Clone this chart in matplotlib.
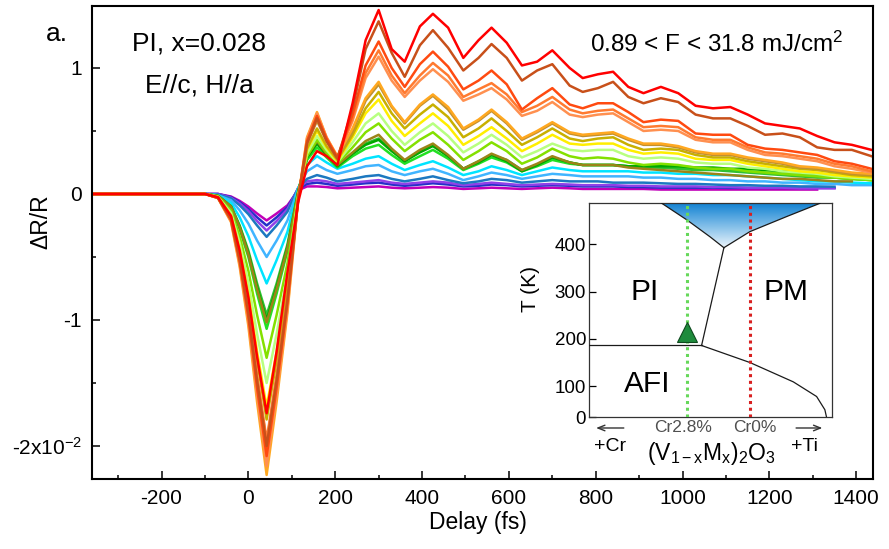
import numpy as np
import matplotlib
matplotlib.use('Agg')
import matplotlib.pyplot as plt
from matplotlib.ticker import MultipleLocator, FixedLocator
from matplotlib.patches import Polygon
from matplotlib.colors import LinearSegmentedColormap

plt.rcParams['font.family'] = ['Liberation Sans', 'DejaVu Sans']
plt.rcParams['mathtext.fontset'] = 'custom'
plt.rcParams['mathtext.rm'] = 'Liberation Sans'
plt.rcParams['mathtext.it'] = 'Liberation Sans:italic'
plt.rcParams['mathtext.bf'] = 'Liberation Sans:bold'
plt.rcParams['axes.unicode_minus'] = False

nan = float('nan')

# ---------------- data ----------------
delay = [-360, -100, -70, -40, -20, 0, 20, 42, 65, 90,
         115, 135, 158, 180, 205, 240, 270, 300, 330, 360,
         395, 425, 460, 495, 530, 560, 595, 630, 665, 700,
         740, 770, 805, 840, 875, 910, 950, 990, 1030, 1070,
         1110, 1150, 1190, 1230, 1270, 1310, 1350, 1390, 1435]

magenta = [0, 0, 0, -0.02, -0.055, -0.10, -0.155, -0.21, -0.155, -0.09,
           0.03, 0.06, 0.06, 0.055, 0.045, 0.05, 0.055, 0.06, 0.05, 0.045,
           0.05, 0.055, 0.05, 0.04, 0.045, 0.05, 0.045, 0.04, 0.045, 0.05,
           0.045, 0.04, 0.04, 0.04, 0.04, 0.04, 0.035, 0.035, 0.035, 0.035,
           0.035, 0.035, 0.035, 0.035, 0.035, 0.035, nan, nan, nan]
dark_blue = [0, 0, 0, -0.025, -0.065, -0.12, -0.185, -0.25, -0.185, -0.105,
             0.04, 0.08, 0.09, 0.08, 0.065, 0.075, 0.085, 0.09, 0.075, 0.065,
             0.075, 0.085, 0.075, 0.06, 0.065, 0.075, 0.07, 0.06, 0.065, 0.07,
             0.065, 0.06, 0.06, 0.06, 0.055, 0.055, 0.05, 0.05, 0.05, 0.05,
             0.048, 0.048, 0.048, 0.048, 0.048, 0.048, 0.048, nan, nan]
purple = [0, 0, 0, -0.03, -0.075, -0.135, -0.215, -0.29, -0.215, -0.12,
          0.05, 0.10, 0.11, 0.10, 0.08, 0.09, 0.10, 0.11, 0.09, 0.08,
          0.09, 0.10, 0.09, 0.07, 0.08, 0.09, 0.08, 0.07, 0.075, 0.08,
          0.075, 0.07, 0.07, 0.07, 0.065, 0.065, 0.06, 0.06, 0.06, 0.055,
          0.055, 0.05, 0.05, 0.05, 0.045, 0.045, 0.045, nan, nan]
steel_blue = [0, 0, -0.005, -0.035, -0.09, -0.16, -0.25, -0.34, -0.25, -0.14,
              0.05, 0.12, 0.15, 0.13, 0.10, 0.12, 0.14, 0.15, 0.12, 0.10,
              0.12, 0.14, 0.11, 0.085, 0.10, 0.12, 0.11, 0.09, 0.10, 0.11,
              0.10, 0.10, 0.10, 0.09, 0.09, 0.09, 0.085, 0.08, 0.08, 0.075,
              0.07, 0.07, 0.065, 0.065, 0.06, 0.06, 0.058, nan, nan]
light_blue = [0, 0, -0.01, -0.05, -0.13, -0.235, -0.37, -0.50, -0.37, -0.21,
              0.05, 0.18, 0.23, 0.19, 0.16, 0.19, 0.22, 0.23, 0.18, 0.15,
              0.18, 0.20, 0.16, 0.11, 0.14, 0.17, 0.15, 0.12, 0.14, 0.16,
              0.15, 0.14, 0.14, 0.14, 0.14, 0.13, 0.13, 0.12, 0.12, 0.11,
              0.11, 0.10, 0.10, 0.09, 0.09, 0.08, 0.08, 0.07, 0.07]
cyan = [0, 0, -0.01, -0.07, -0.185, -0.335, -0.525, -0.71, -0.525, -0.30,
        0.04, 0.23, 0.30, 0.25, 0.20, 0.24, 0.28, 0.30, 0.24, 0.19,
        0.23, 0.26, 0.21, 0.15, 0.18, 0.22, 0.19, 0.15, 0.18, 0.21,
        0.19, 0.18, 0.18, 0.18, 0.18, 0.17, 0.17, 0.16, 0.16, 0.15,
        0.15, 0.14, 0.13, 0.12, 0.11, 0.10, 0.10, 0.09, 0.085]
bright_green = [0, 0, -0.016, -0.107, -0.28, -0.50, -0.79, -1.07, -0.79, -0.45,
                0.02, 0.27, 0.37, 0.29, 0.21, 0.30, 0.36, 0.39, 0.31, 0.24,
                0.30, 0.35, 0.28, 0.19, 0.24, 0.29, 0.25, 0.18, 0.22, 0.27,
                0.24, 0.23, 0.23, 0.23, 0.22, 0.22, 0.21, 0.21, 0.20, 0.20,
                0.19, 0.18, 0.17, 0.16, 0.15, 0.14, 0.13, 0.12, 0.11]
mid_green = [0, 0, -0.014, -0.096, -0.25, -0.45, -0.71, -0.96, -0.71, -0.40,
             0.03, 0.29, 0.41, 0.32, 0.22, 0.32, 0.40, 0.44, 0.35, 0.26,
             0.34, 0.39, 0.30, 0.20, 0.26, 0.31, 0.27, 0.19, 0.23, 0.29,
             0.25, 0.23, 0.23, 0.23, 0.22, 0.21, 0.21, 0.20, 0.19, 0.19,
             0.18, 0.17, 0.16, 0.15, 0.14, 0.13, 0.13, 0.12, 0.11]
green = [0, 0, -0.015, -0.10, -0.26, -0.47, -0.74, -1.00, -0.74, -0.42,
         0.02, 0.29, 0.40, 0.31, 0.22, 0.32, 0.39, 0.43, 0.34, 0.26,
         0.33, 0.38, 0.30, 0.20, 0.25, 0.31, 0.26, 0.18, 0.23, 0.29,
         0.25, 0.23, 0.23, 0.23, 0.22, 0.22, 0.22, 0.22, 0.21, 0.21,
         0.20, 0.20, 0.19, 0.18, 0.17, 0.16, 0.15, nan, nan]
olive_green = [0, 0, -0.015, -0.10, -0.265, -0.48, -0.755, -1.02, -0.755, -0.43,
               0.02, 0.30, 0.42, 0.32, 0.23, 0.33, 0.42, 0.47, 0.36, 0.27,
               0.35, 0.40, 0.31, 0.20, 0.26, 0.32, 0.27, 0.19, 0.24, 0.30,
               0.25, 0.23, 0.23, 0.23, 0.21, 0.20, 0.19, 0.18, 0.17, 0.16,
               0.15, 0.14, 0.13, 0.12, 0.12, 0.11, 0.10, 0.10, nan]
yellow_green = [0, 0, -0.02, -0.13, -0.34, -0.61, -0.96, -1.30, -0.96, -0.55,
                0.0, 0.30, 0.43, 0.33, 0.24, 0.37, 0.49, 0.56, 0.44, 0.34,
                0.43, 0.49, 0.39, 0.27, 0.34, 0.41, 0.34, 0.24, 0.29, 0.36,
                0.30, 0.28, 0.29, 0.28, 0.25, 0.23, 0.24, 0.23, 0.21, 0.20,
                0.20, 0.18, 0.17, 0.16, 0.15, 0.14, 0.13, 0.12, 0.11]
light_green = [0, 0, -0.022, -0.15, -0.39, -0.705, -1.11, -1.50, -1.11, -0.63,
               -0.01, 0.32, 0.46, 0.35, 0.25, 0.41, 0.56, 0.64, 0.50, 0.39,
               0.49, 0.56, 0.46, 0.33, 0.40, 0.47, 0.39, 0.29, 0.34, 0.40,
               0.35, 0.34, 0.35, 0.35, 0.30, 0.28, 0.29, 0.28, 0.25, 0.24,
               0.24, 0.21, 0.20, 0.18, 0.17, 0.16, 0.14, 0.13, 0.12]
yellow = [0, 0, -0.025, -0.17, -0.44, -0.795, -1.25, -1.69, -1.25, -0.71,
          -0.02, 0.35, 0.50, 0.37, 0.26, 0.45, 0.64, 0.75, 0.58, 0.46,
          0.56, 0.64, 0.54, 0.39, 0.46, 0.53, 0.44, 0.34, 0.40, 0.47,
          0.40, 0.39, 0.40, 0.40, 0.35, 0.32, 0.33, 0.32, 0.28, 0.27,
          0.27, 0.24, 0.22, 0.20, 0.18, 0.17, 0.15, 0.14, 0.13]
olive_yellow = [0, 0, -0.027, -0.18, -0.465, -0.84, -1.32, -1.79, -1.32, -0.75,
                -0.02, 0.36, 0.52, 0.38, 0.27, 0.47, 0.68, 0.81, 0.64, 0.52,
                0.63, 0.71, 0.61, 0.45, 0.52, 0.60, 0.50, 0.39, 0.45, 0.52,
                0.44, 0.42, 0.44, 0.45, 0.39, 0.35, 0.36, 0.35, 0.31, 0.29,
                0.29, 0.26, 0.24, 0.22, 0.20, 0.19, 0.17, 0.15, 0.14]
olive_gold = [0, 0, -0.03, -0.197, -0.51, -0.93, -1.46, -1.97, -1.46, -0.83,
              -0.03, 0.40, 0.58, 0.42, 0.28, 0.50, 0.74, 0.87, 0.69, 0.56,
              0.70, 0.78, 0.67, 0.51, 0.58, 0.66, 0.56, 0.43, 0.49, 0.56,
              0.48, 0.46, 0.47, 0.48, 0.43, 0.39, 0.39, 0.37, 0.33, 0.31,
              0.31, 0.28, 0.26, 0.24, 0.21, 0.20, 0.18, 0.16, 0.15]
yellow_orange = [0, 0, -0.033, -0.223, -0.58, -1.05, -1.65, -2.23, -1.65, -0.94,
                 -0.03, 0.45, 0.65, 0.45, 0.30, 0.52, 0.76, 0.89, 0.70, 0.57,
                 0.71, 0.79, 0.69, 0.52, 0.59, 0.67, 0.57, 0.44, 0.50, 0.57,
                 0.49, 0.47, 0.48, 0.49, 0.44, 0.40, 0.40, 0.38, 0.34, 0.32,
                 0.32, 0.29, 0.27, 0.25, 0.22, 0.21, 0.19, 0.17, 0.16]
light_orange = [0, 0, -0.032, -0.216, -0.56, -1.015, -1.60, -2.16, -1.60, -0.91,
                -0.03, 0.44, 0.64, 0.45, 0.29, 0.58, 0.92, 1.09, 0.90, 0.77,
                0.90, 0.99, 0.89, 0.74, 0.79, 0.84, 0.75, 0.62, 0.66, 0.73,
                0.63, 0.61, 0.63, 0.64, 0.57, 0.50, 0.51, 0.50, 0.43, 0.41,
                0.41, 0.35, 0.31, 0.30, 0.28, 0.26, 0.22, 0.20, 0.17]
orange = [0, 0, -0.03, -0.195, -0.51, -0.915, -1.44, -1.95, -1.44, -0.82,
          -0.03, 0.40, 0.60, 0.43, 0.29, 0.60, 0.96, 1.14, 0.94, 0.80,
          0.94, 1.04, 0.94, 0.77, 0.83, 0.88, 0.79, 0.65, 0.70, 0.77,
          0.67, 0.64, 0.66, 0.67, 0.60, 0.53, 0.54, 0.53, 0.45, 0.43,
          0.43, 0.37, 0.33, 0.32, 0.30, 0.28, 0.24, 0.22, 0.18]
orange_red = [0, 0, -0.031, -0.208, -0.54, -0.98, -1.54, -2.08, -1.54, -0.87,
              -0.03, 0.42, 0.62, 0.44, 0.29, 0.63, 1.02, 1.21, 1.00, 0.85,
              1.03, 1.13, 1.01, 0.83, 0.90, 0.98, 0.87, 0.67, 0.76, 0.84,
              0.71, 0.68, 0.72, 0.72, 0.65, 0.57, 0.59, 0.58, 0.48, 0.47,
              0.47, 0.39, 0.36, 0.35, 0.33, 0.31, 0.26, 0.24, 0.20]
brown = [0, 0, -0.03, -0.20, -0.52, -0.94, -1.48, -2.00, -1.48, -0.84,
         -0.03, 0.40, 0.60, 0.42, 0.28, 0.68, 1.15, 1.37, 1.12, 0.93,
         1.18, 1.30, 1.16, 0.98, 1.08, 1.19, 1.08, 0.90, 0.98, 1.03,
         0.86, 0.81, 0.84, 0.89, 0.77, 0.72, 0.76, 0.73, 0.63, 0.60,
         0.60, 0.54, 0.47, 0.48, 0.45, 0.37, 0.35, 0.35, 0.30]
red = [0, 0, -0.026, -0.174, -0.45, -0.82, -1.29, -1.74, -1.25, -0.62,
       -0.06, 0.22, 0.34, 0.30, 0.23, 0.72, 1.22, 1.46, 1.15, 1.05,
       1.33, 1.43, 1.32, 1.08, 1.22, 1.32, 1.20, 1.02, 1.05, 1.14,
       1.00, 0.92, 0.95, 0.97, 0.85, 0.80, 0.85, 0.80, 0.70, 0.68,
       0.69, 0.63, 0.56, 0.54, 0.52, 0.46, 0.41, 0.39, 0.35]

series = [magenta, dark_blue, purple, steel_blue, light_blue, cyan,
          bright_green, mid_green, green, olive_green, yellow_green,
          light_green, yellow, olive_yellow, olive_gold, yellow_orange,
          light_orange, orange, orange_red, brown, red]
series_colors = ['#C000B8', '#2430C8', '#9040E8', '#1C78C0', '#40B4FF', '#00E4FF',
                 '#22E022', '#30C030', '#00A800', '#9C8418', '#84E000',
                 '#B8FF80', '#FFEE00', '#C8B000', '#C09030', '#FFA820',
                 '#FF9050', '#FF7A30', '#FF4A10', '#C8501A', '#FF0000']

y_tick_vals = [-2, -1, 0, 1]
y_tick_labels = ['-2x10$^{-2}$', '-1', '0', '1']

# inset phase diagram (schematic) data
dome_left_x = [0.30, 0.403, 0.499, 0.556]
dome_left_y = [487, 452, 416, 393]
dome_right_x = [0.556, 0.663, 0.815, 0.952]
dome_right_y = [393, 427, 459, 487]
pi_pm_x = [0.556, 0.464]
pi_pm_y = [393, 186]
afi_x = [0.0, 0.464]
afi_y = [186, 186]
afi_pm_x = [0.464, 0.663, 0.842, 0.938, 0.972, 0.979]
afi_pm_y = [186, 150, 109, 78, 50, 34]
cr28_x = 0.404
cr0_x = 0.663
sample_T = 215
inset_yticks = [34, 100, 200, 300, 400]
inset_yticklabels = ['0', '100', '200', '300', '400']

# ---------------- figure ----------------
fig = plt.figure(figsize=(8.89, 5.49), dpi=100)
ax = fig.add_axes([0.1031, 0.1275, 0.8786, 0.8616])

for vals, col in zip(series, series_colors):
    ax.plot(delay, vals, color=col, lw=1.8, zorder=2)

ax.set_xlim(-361, 1438)
ax.set_ylim(-2.262, 1.492)
ax.xaxis.set_major_locator(MultipleLocator(200))
ax.xaxis.set_minor_locator(MultipleLocator(100))
ax.yaxis.set_major_locator(FixedLocator(y_tick_vals))
ax.yaxis.set_minor_locator(FixedLocator([-1.5, -0.5, 0.5]))
ax.set_yticklabels(y_tick_labels)
ax.tick_params(which='both', direction='in', top=False, right=False,
               labelsize=15, pad=7, width=1.1)
ax.tick_params(which='major', length=5.5)
ax.tick_params(which='minor', length=3)
for s in ax.spines.values():
    s.set_linewidth(1.5)

ax.set_xlabel('Delay (fs)', fontsize=16.5)
ax.xaxis.set_label_coords(0.495, -0.068)
ax.set_ylabel('ΔR/R', fontsize=16.5)
ax.yaxis.set_label_coords(-0.05, 0.545)

ax.text(-113, 1.198, 'PI, x=0.028', fontsize=19, ha='center', va='center')
ax.text(-113, 0.857, 'E//c, H//a', fontsize=19, ha='center', va='center')
ax.text(1078, 1.19, '0.89 < F < 31.8 mJ/cm$^{2}$', fontsize=17.5, ha='center', va='center')
fig.text(57 / 889, 1 - 34 / 549, 'a.', fontsize=19, ha='center', va='center')

# ---------------- inset ----------------
axin = fig.add_axes([0.6625, 0.2399, 0.273, 0.3898])
axin.set_facecolor('white')

verts = list(zip(dome_left_x, dome_left_y)) + list(zip(dome_right_x, dome_right_y))[1:]
poly = Polygon(verts, closed=True, facecolor='none', edgecolor='none')
axin.add_patch(poly)
cmap = LinearSegmentedColormap.from_list('dome', ['#EEF6FC', '#7FBDE8', '#1282D2'])
grad = np.linspace(0, 1, 256).reshape(-1, 1)
im = axin.imshow(grad, extent=[0, 1, 393, 487], origin='lower', cmap=cmap,
                 aspect='auto', zorder=1, interpolation='bilinear')
im.set_clip_path(poly)

lc = '#1a1a1a'
axin.plot(dome_left_x, dome_left_y, color=lc, lw=0.9, zorder=3)
axin.plot(dome_right_x, dome_right_y, color=lc, lw=0.9, zorder=3)
axin.plot(pi_pm_x, pi_pm_y, color=lc, lw=0.9, zorder=3)
axin.plot(afi_x, afi_y, color=lc, lw=0.9, zorder=3)
axin.plot(afi_pm_x, afi_pm_y, color=lc, lw=0.9, zorder=3)

axin.plot([cr28_x, cr28_x], [34, 487], color='#66D85A', lw=2.2, ls=(0, (1, 1.2)), zorder=4)
axin.plot([cr0_x, cr0_x], [34, 487], color='#D82020', lw=2.2, ls=(0, (1, 1.2)), zorder=4)
axin.plot([cr28_x], [sample_T], marker='^', ms=14, color='#1E8B3C', mec='#0E4A1E',
          mew=0.8, zorder=5)

axin.text(0.231, 300, 'PI', fontsize=21.5, ha='center', va='center')
axin.text(0.812, 300, 'PM', fontsize=21.5, ha='center', va='center')
axin.text(0.239, 104, 'AFI', fontsize=21.5, ha='center', va='center')

axin.set_xlim(0, 1)
axin.set_ylim(34, 487)
axin.set_xticks([])
axin.set_yticks(inset_yticks)
axin.set_yticklabels(inset_yticklabels)
axin.tick_params(axis='y', direction='in', length=5, width=0.9, labelsize=13.5, pad=2)
for s in axin.spines.values():
    s.set_linewidth(0.9)
    s.set_color('#333333')
axin.set_ylabel('T (K)', fontsize=15)
axin.yaxis.set_label_coords(-0.2, 0.6)

tr = axin.transAxes
axin.text(0.387, -0.05, 'Cr2.8%', fontsize=12.5, color='#505050', ha='center', va='center', transform=tr)
axin.text(0.684, -0.05, 'Cr0%', fontsize=12.5, color='#505050', ha='center', va='center', transform=tr)
axin.text(0.087, -0.135, '+Cr', fontsize=14, ha='center', va='center', transform=tr)
axin.text(0.89, -0.135, '+Ti', fontsize=14, ha='center', va='center', transform=tr)
axin.text(0.506, -0.17, r'(V$_{\mathrm{1-x}}$M$_{\mathrm{x}}$)$_{\mathrm{2}}$O$_{\mathrm{3}}$',
          fontsize=16.5, ha='center', va='center', transform=tr)
axin.annotate('', xy=(0.018, -0.05), xytext=(0.155, -0.05), xycoords=tr, textcoords=tr,
              arrowprops=dict(arrowstyle='->,head_length=0.5,head_width=0.2', color='#333333', lw=1.0))
axin.annotate('', xy=(0.973, -0.05), xytext=(0.842, -0.05), xycoords=tr, textcoords=tr,
              arrowprops=dict(arrowstyle='->,head_length=0.5,head_width=0.2', color='#333333', lw=1.0))

fig.savefig('out.png', dpi=100)
